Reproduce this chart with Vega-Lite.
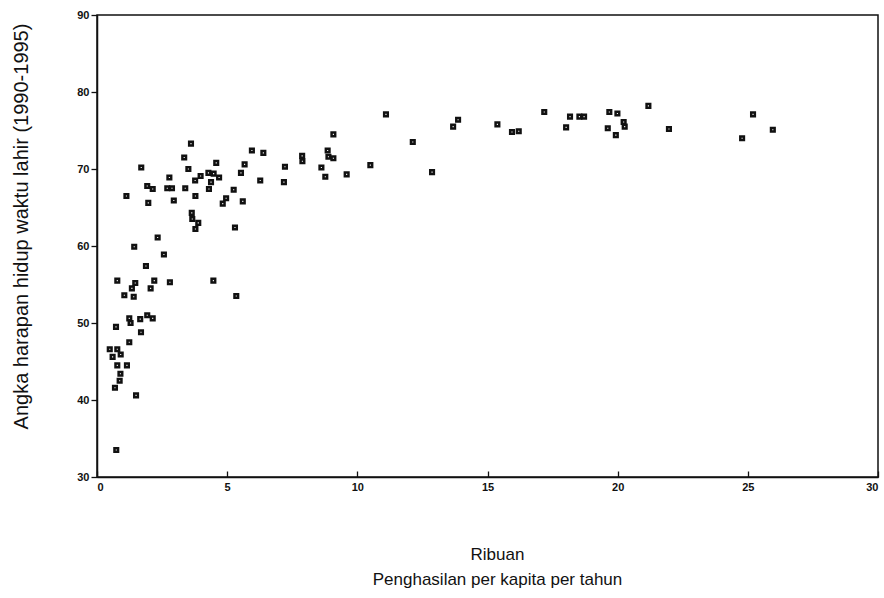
{
  "$schema": "https://vega.github.io/schema/vega-lite/v6.json",
  "autosize": {"type": "none"},
  "width": 781,
  "height": 462,
  "padding": {"left": 97, "top": 15, "right": 6, "bottom": 121},
  "background": "white",
  "config": {
    "font": "Liberation Sans",
    "view": {"stroke": "#111", "strokeWidth": 1.5},
    "axis": {"grid": false, "domainColor": "#111", "domainWidth": 1.5, "tickColor": "#111", "tickWidth": 1.3, "labelColor": "#111", "titleColor": "#111", "labelFont": "Liberation Sans", "titleFont": "Liberation Sans", "labelFontWeight": "bold", "titleFontWeight": "normal"}
  },
  "data": {"values": [
    {"x": 1.43, "y": 59.9}, {"x": 2.57, "y": 58.9}, {"x": 1.88, "y": 57.4}, {"x": 0.78, "y": 55.5},
    {"x": 1.47, "y": 55.2}, {"x": 1.34, "y": 54.5}, {"x": 2.20, "y": 55.5}, {"x": 2.80, "y": 55.3},
    {"x": 2.06, "y": 54.5}, {"x": 4.47, "y": 55.5}, {"x": 1.05, "y": 53.6}, {"x": 1.41, "y": 53.4},
    {"x": 5.35, "y": 53.5}, {"x": 1.24, "y": 50.6}, {"x": 1.29, "y": 50.0}, {"x": 1.66, "y": 50.5},
    {"x": 1.93, "y": 51.0}, {"x": 2.14, "y": 50.6}, {"x": 0.73, "y": 49.5}, {"x": 1.69, "y": 48.8},
    {"x": 1.24, "y": 47.5}, {"x": 0.49, "y": 46.6}, {"x": 0.78, "y": 46.6}, {"x": 0.60, "y": 45.6},
    {"x": 0.91, "y": 45.9}, {"x": 0.78, "y": 44.5}, {"x": 1.15, "y": 44.5}, {"x": 0.90, "y": 43.4},
    {"x": 0.87, "y": 42.5}, {"x": 0.69, "y": 41.6}, {"x": 1.50, "y": 40.6}, {"x": 0.74, "y": 33.5},
    {"x": 3.61, "y": 73.3}, {"x": 5.95, "y": 72.4}, {"x": 6.39, "y": 72.1}, {"x": 3.35, "y": 71.5},
    {"x": 4.58, "y": 70.8}, {"x": 5.67, "y": 70.6}, {"x": 1.70, "y": 70.2}, {"x": 3.51, "y": 70.0},
    {"x": 7.22, "y": 70.3}, {"x": 4.28, "y": 69.5}, {"x": 4.48, "y": 69.4}, {"x": 5.53, "y": 69.5},
    {"x": 2.78, "y": 68.9}, {"x": 3.98, "y": 69.1}, {"x": 4.69, "y": 68.9}, {"x": 3.77, "y": 68.5},
    {"x": 6.27, "y": 68.5}, {"x": 7.18, "y": 68.3}, {"x": 4.38, "y": 68.3}, {"x": 1.93, "y": 67.8},
    {"x": 2.14, "y": 67.4}, {"x": 2.70, "y": 67.5}, {"x": 2.88, "y": 67.5}, {"x": 3.39, "y": 67.5},
    {"x": 4.30, "y": 67.4}, {"x": 5.25, "y": 67.3}, {"x": 1.13, "y": 66.5}, {"x": 3.78, "y": 66.5},
    {"x": 4.96, "y": 66.2}, {"x": 1.97, "y": 65.6}, {"x": 2.95, "y": 65.9}, {"x": 4.83, "y": 65.5},
    {"x": 5.60, "y": 65.8}, {"x": 3.64, "y": 64.3}, {"x": 3.66, "y": 63.5}, {"x": 3.89, "y": 63.0},
    {"x": 3.78, "y": 62.2}, {"x": 5.30, "y": 62.4}, {"x": 2.33, "y": 61.1},
    {"x": 11.10, "y": 77.1}, {"x": 13.87, "y": 76.4}, {"x": 13.68, "y": 75.5}, {"x": 15.38, "y": 75.8},
    {"x": 15.94, "y": 74.8}, {"x": 16.20, "y": 74.9}, {"x": 17.18, "y": 77.4}, {"x": 18.02, "y": 75.4},
    {"x": 18.17, "y": 76.8}, {"x": 18.53, "y": 76.8}, {"x": 18.71, "y": 76.8}, {"x": 9.08, "y": 74.5},
    {"x": 12.13, "y": 73.5}, {"x": 8.86, "y": 72.4}, {"x": 7.88, "y": 71.7}, {"x": 7.89, "y": 71.0},
    {"x": 8.89, "y": 71.6}, {"x": 9.08, "y": 71.4}, {"x": 8.62, "y": 70.2}, {"x": 10.50, "y": 70.5},
    {"x": 8.77, "y": 69.0}, {"x": 9.59, "y": 69.3}, {"x": 12.87, "y": 69.6},
    {"x": 21.18, "y": 78.2}, {"x": 19.68, "y": 77.4}, {"x": 19.99, "y": 77.2}, {"x": 20.23, "y": 76.1},
    {"x": 20.27, "y": 75.5}, {"x": 19.62, "y": 75.3}, {"x": 19.93, "y": 74.4}, {"x": 21.97, "y": 75.2},
    {"x": 25.20, "y": 77.1}, {"x": 25.96, "y": 75.1}, {"x": 24.78, "y": 74.0}
  ]},
  "mark": {"type": "point", "shape": "square", "filled": false, "size": 13, "strokeWidth": 2.5, "color": "#111", "opacity": 1},
  "encoding": {
    "x": {"field": "x", "type": "quantitative", "scale": {"domain": [0, 30], "nice": false, "zero": false},
      "axis": {"values": [0, 5, 10, 15, 20, 25, 30], "tickSize": -6, "labelFontSize": 11, "labelPadding": 10,
        "title": ["Ribuan", "Penghasilan per kapita per tahun"], "titleFontSize": 17, "titleLineHeight": 25,
        "titleX": 400, "titleY": 82, "titleBaseline": "alphabetic", "titleAlign": "center"}},
    "y": {"field": "y", "type": "quantitative", "scale": {"domain": [30, 90], "nice": false, "zero": false},
      "axis": {"values": [30, 40, 50, 60, 70, 80, 90], "tickSize": 6, "labelFontSize": 11, "labelPadding": 2,
        "title": "Angka harapan hidup waktu lahir (1990-1995)", "titleFontSize": 20, "titleAngle": -90,
        "titleX": -70, "titleY": 211, "titleAlign": "center", "titleBaseline": "alphabetic"}}
  }
}
